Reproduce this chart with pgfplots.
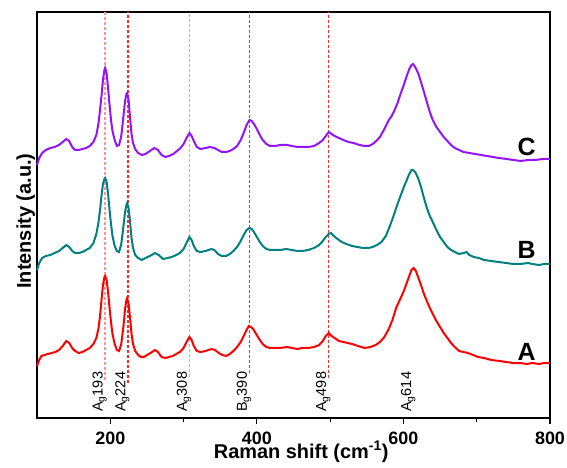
\documentclass[border=0pt]{standalone}
\usepackage{pgfplots}
\pgfplotsset{compat=1.18}
\usepackage{fontspec}
\setmainfont{Liberation Sans}
\definecolor{cA}{RGB}{255,0,0}
\definecolor{cB}{RGB}{0,128,128}
\definecolor{cC}{RGB}{148,20,250}
\definecolor{lnDark}{RGB}{255,40,40}
\definecolor{lnPale}{RGB}{255,150,150}

\begin{document}
\begin{tikzpicture}
\begin{axis}[
  scale only axis, width=513bp, height=406bp,
  xmin=100, xmax=800, ymin=0, ymax=406,
  axis line style={line width=1.3bp},
  xtick={200,400,600,800}, minor xtick={300,500,700},
  ytick=\empty,
  tick align=outside, xtick pos=bottom,
  major tick length=6bp, minor tick length=3.5bp,
  every tick/.style={black, line width=1.2bp},
  xticklabel style={font=\fontsize{18}{20}\selectfont\bfseries, /pgf/number format/assume math mode=true, anchor=base, yshift=-20.5bp},
  xlabel={Raman shift (cm\textsuperscript{-1})},
  xlabel style={font=\fontsize{20}{22}\selectfont\bfseries, at={(rel axis cs:0.515,-0.099)}, anchor=base},
  ylabel={Intensity (a.u.)},
  ylabel style={font=\fontsize{20}{22}\selectfont\bfseries, at={(rel axis cs:-0.0117,0.485)}, anchor=base},
  clip=false,
]
% reference lines
\addplot[color=lnPale, dash pattern=on 3bp off 2bp, line width=1.6bp, mark=none] coordinates {(193,38) (193,406)};
\addplot[color=lnDark, dash pattern=on 3bp off 2bp, line width=1.6bp, mark=none] coordinates {(224,35) (224,406)};
\addplot[color=lnPale, dash pattern=on 3bp off 2bp, line width=1.6bp, mark=none] coordinates {(308,41) (308,406)};
\addplot[color=lnDark, dash pattern=on 3bp off 2bp, line width=1.6bp, mark=none] coordinates {(390,45) (390,406)};
\addplot[color=lnDark, dash pattern=on 3bp off 2bp, line width=1.6bp, mark=none] coordinates {(498,40) (498,406)};

% A
\addplot[cA, line width=2bp] coordinates {
(100,52) (103,58) (106,62) (110,63) (115,64) (120,65) (125,66) (130,68) (135,72) (140,77)
(144,75) (148,70) (152,67) (157,65) (162,66) (167,68) (172,70) (177,74) (181,80) (184,90)
(186,102) (188,118) (190,133) (192,141) (193,142) (195,138) (197,126) (199,110) (201,96) (203,84)
(206,74) (209,68) (212,67) (215,74) (218,92) (220,108) (222,118) (223,120) (225,114) (227,100)
(229,84) (231,74) (234,67) (238,63) (242,61) (246,61) (250,63) (255,65) (261,68) (265,66)
(270,61) (275,60) (280,61) (285,62) (290,64) (295,66) (300,70) (304,76) (308,81) (311,78)
(314,72) (318,67) (323,66) (330,67) (338,69) (343,68) (348,65) (353,63) (358,62) (363,64)
(368,67) (373,71) (378,76) (382,82) (386,88) (389,92) (392,91) (395,89) (399,84) (404,78)
(408,74) (413,71) (418,70) (425,70) (432,70) (441,71) (448,70) (455,69) (462,70) (470,70)
(478,71) (485,73) (490,77) (494,82) (498,85) (502,82) (506,80) (512,77) (518,76) (524,75)
(530,74) (538,72) (547,70) (555,71) (562,73) (568,76) (574,81) (580,89) (585,98) (590,110)
(595,118) (600,126) (604,134) (608,142) (611,148) (614,150) (617,147) (620,141) (624,133) (628,124)
(632,117) (636,110) (640,104) (645,97) (650,91) (655,85) (660,80) (665,75) (670,71) (676,67)
(682,66) (688,65) (695,63) (702,61) (710,60) (720,58) (731,57) (740,56) (750,55) (760,55)
(768,54) (776,55) (785,54) (792,55) (800,55)
};
% B
\addplot[cB, line width=2bp] coordinates {
(100,148) (103,155) (107,160) (112,162) (118,163) (124,165) (130,167) (135,170) (140,173) (144,171)
(148,167) (152,165) (157,165) (162,166) (167,168) (172,170) (177,175) (181,184) (184,196) (186,208)
(188,222) (190,234) (192,239) (193,240) (195,236) (197,224) (199,208) (201,194) (203,182) (206,172)
(209,167) (212,166) (215,174) (218,192) (220,205) (222,213) (223,215) (225,210) (227,196) (229,180)
(231,170) (234,163) (238,160) (243,158) (248,160) (254,162) (261,165) (266,163) (272,159) (278,160)
(284,161) (290,163) (295,165) (300,169) (304,175) (308,181) (311,178) (314,172) (318,167) (323,166)
(330,167) (338,169) (342,168) (347,164) (352,162) (358,162) (363,164) (368,167) (373,171) (378,177)
(382,183) (386,188) (390,190) (393,189) (396,186) (400,181) (404,176) (408,172) (413,169) (418,168)
(425,168) (432,168) (440,169) (448,168) (455,167) (462,167) (470,168) (478,170) (485,173) (490,177)
(494,181) (498,184) (501,185) (505,182) (510,179) (516,176) (522,174) (530,172) (537,171) (545,170)
(552,170) (558,171) (564,173) (570,176) (576,182) (581,191) (586,201) (591,212) (596,222) (600,230)
(604,237) (608,244) (611,248) (613,248) (616,246) (620,240) (624,231) (628,220) (632,210) (636,202)
(640,196) (645,188) (650,181) (655,176) (660,171) (665,168) (670,166) (676,164) (682,165) (686,166)
(690,163) (696,161) (703,160) (710,158) (720,157) (730,156) (740,155) (750,154) (760,154) (770,155)
(776,154) (785,153) (792,154) (800,154)
};
% C
\addplot[cC, line width=2bp] coordinates {
(100,253) (103,260) (107,265) (112,268) (118,270) (124,271) (130,273) (135,276) (140,279) (144,277)
(148,271) (152,268) (157,268) (162,269) (167,270) (172,272) (177,276) (181,283) (184,295) (186,308)
(188,322) (190,338) (192,348) (193,350) (195,345) (197,330) (199,313) (201,298) (203,287) (206,278)
(209,272) (212,273) (215,282) (218,302) (220,316) (222,324) (223,325) (225,318) (227,300) (229,284)
(231,275) (234,269) (238,265) (243,263) (248,264) (254,267) (260,270) (265,268) (270,263) (275,261)
(280,262) (286,264) (291,267) (296,270) (300,274) (304,280) (308,285) (311,282) (314,277) (318,271)
(323,269) (330,270) (336,271) (342,270) (347,268) (352,266) (358,266) (363,267) (368,269) (373,272)
(378,278) (382,285) (386,293) (390,298) (393,297) (396,294) (400,289) (404,283) (408,278) (413,274)
(418,272) (425,272) (432,273) (441,273) (448,272) (455,271) (462,271) (470,271) (478,272) (485,275)
(490,278) (494,282) (498,286) (502,284) (506,282) (512,280) (518,278) (525,276) (532,275) (540,273)
(547,272) (553,272) (558,274) (563,277) (568,281) (574,289) (580,298) (584,302) (588,308) (592,315)
(596,324) (600,332) (604,341) (608,349) (611,353) (613,354) (616,351) (620,345) (624,336) (628,326)
(632,316) (636,306) (640,298) (645,291) (650,286) (655,281) (660,277) (665,273) (670,270) (676,268)
(682,266) (690,265) (698,264) (706,263) (714,262) (722,261) (730,260) (741,259) (750,258) (760,257)
(770,258) (780,258) (790,259) (800,259)
};

\node[font=\fontsize{25}{28}\selectfont\bfseries] at (axis cs:768,66) {A};
\node[font=\fontsize{25}{28}\selectfont\bfseries] at (axis cs:768,168) {B};
\node[font=\fontsize{25}{28}\selectfont\bfseries] at (axis cs:768,271) {C};

\node[rotate=90, anchor=base west, inner sep=0pt, font=\fontsize{14.5}{16}\selectfont] at (axis cs:189.5,6) {A\textsubscript{g}193};
\node[rotate=90, anchor=base west, inner sep=0pt, font=\fontsize{14.5}{16}\selectfont] at (axis cs:220.5,6) {A\textsubscript{g}224};
\node[rotate=90, anchor=base west, inner sep=0pt, font=\fontsize{14.5}{16}\selectfont] at (axis cs:304.5,6) {A\textsubscript{g}308};
\node[rotate=90, anchor=base west, inner sep=0pt, font=\fontsize{14.5}{16}\selectfont] at (axis cs:386.5,6) {B\textsubscript{g}390};
\node[rotate=90, anchor=base west, inner sep=0pt, font=\fontsize{14.5}{16}\selectfont] at (axis cs:494.5,6) {A\textsubscript{g}498};
\node[rotate=90, anchor=base west, inner sep=0pt, font=\fontsize{14.5}{16}\selectfont] at (axis cs:610.5,6) {A\textsubscript{g}614};
\end{axis}
\pgfresetboundingbox
\path (-37bp,-50bp) rectangle (530bp,418bp);
\end{tikzpicture}
\end{document}
